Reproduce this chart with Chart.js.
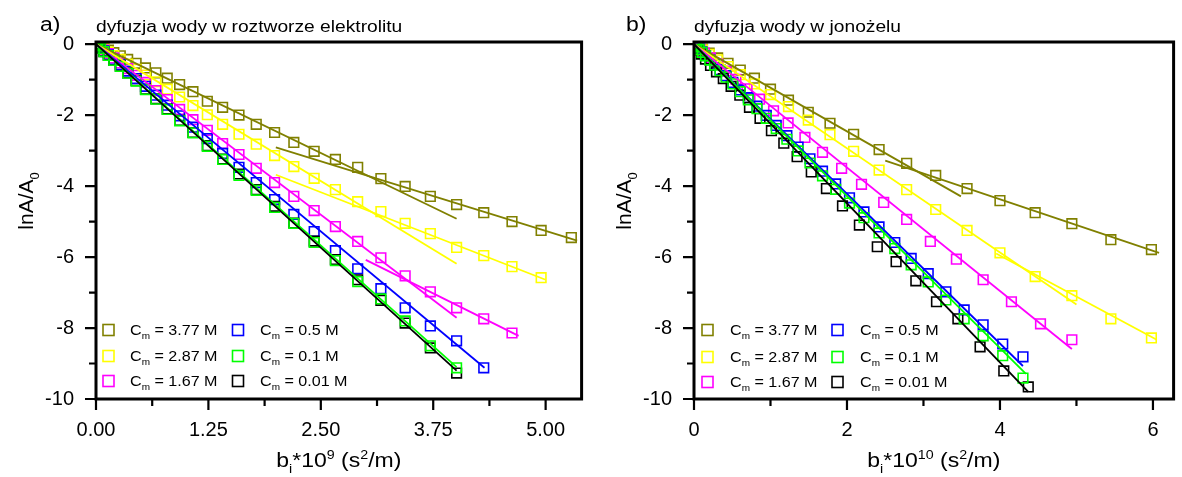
<!DOCTYPE html>
<html>
<head>
<meta charset="utf-8">
<script src="https://cdn.jsdelivr.net/npm/chart.js@4.4.1/dist/chart.umd.min.js"></script>
<style>
  body { margin: 0; background: #fff; width: 1182px; height: 477px; overflow: hidden; position: relative; }
  .panel { position: absolute; top: 0; height: 477px; }
  #left { left: 0; width: 590px; }
  #right { left: 590px; width: 592px; }
</style>
</head>
<body>
<div class="panel" id="left"><canvas id="chartA"></canvas></div>
<div class="panel" id="right"><canvas id="chartB"></canvas></div>
<script>
// concentrations shown in the legend
const seriesNames = ["3.77 M", "2.87 M", "1.67 M", "0.5 M", "0.1 M", "0.01 M"];
const seriesColors = ["#808000", "#ffff00", "#ff00ff", "#0000ff", "#00ff00", "#000000"];

// ---- panel a) : b*10^9 values and lnA/A0 per concentration
const leftB = [0, 0.0055, 0.022, 0.0495, 0.088, 0.1375, 0.198, 0.27, 0.352, 0.446, 0.55, 0.666, 0.792, 0.93, 1.078, 1.238, 1.408, 1.59, 1.782, 1.986, 2.2, 2.426, 2.662, 2.91, 3.168, 3.438, 3.718, 4.01, 4.312, 4.626, 4.95, 5.286];
const leftLn377 = [0, -0.01, -0.03, -0.06, -0.11, -0.17, -0.24, -0.33, -0.43, -0.54, -0.67, -0.81, -0.96, -1.14, -1.34, -1.61, -1.78, -2.00, -2.26, -2.49, -2.77, -3.02, -3.25, -3.47, -3.79, -4.01, -4.29, -4.52, -4.75, -5.00, -5.25, -5.45];
const leftLn287 = [0, -0.01, -0.035, -0.08, -0.14, -0.22, -0.32, -0.43, -0.56, -0.71, -0.87, -1.06, -1.27, -1.49, -1.73, -1.99, -2.26, -2.54, -2.82, -3.14, -3.45, -3.78, -4.10, -4.44, -4.72, -5.05, -5.34, -5.73, -5.96, -6.27, -6.58];
const leftLn167 = [0, -0.01, -0.04, -0.10, -0.17, -0.27, -0.39, -0.53, -0.69, -0.88, -1.08, -1.31, -1.56, -1.84, -2.13, -2.43, -2.80, -3.11, -3.50, -3.90, -4.29, -4.69, -5.14, -5.56, -6.02, -6.53, -6.98, -7.43, -7.74, -8.14];
const leftLn05 = [0, -0.01, -0.05, -0.11, -0.19, -0.30, -0.43, -0.58, -0.76, -0.97, -1.19, -1.44, -1.72, -2.02, -2.34, -2.66, -3.08, -3.47, -3.90, -4.38, -4.80, -5.28, -5.82, -6.33, -6.89, -7.43, -7.94, -8.36, -9.12];
const leftLn01 = [0, -0.01, -0.05, -0.12, -0.21, -0.32, -0.46, -0.63, -0.82, -1.04, -1.28, -1.55, -1.84, -2.16, -2.50, -2.88, -3.25, -3.70, -4.12, -4.60, -5.05, -5.59, -6.10, -6.69, -7.18, -7.80, -8.50, -9.12];
const leftLn001 = [0, -0.01, -0.05, -0.12, -0.21, -0.32, -0.46, -0.62, -0.81, -1.03, -1.27, -1.54, -1.83, -2.15, -2.49, -2.86, -3.24, -3.66, -4.10, -4.57, -5.04, -5.55, -6.07, -6.64, -7.22, -7.86, -8.56, -9.27];
// fitted lines: [x1, y1, x2, y2]
const leftFit377 = [[0, 0, 4.01, -4.92], [2.0, -2.91, 5.35, -5.54]];
const leftFit287 = [[0, 0, 4.01, -6.19], [2.0, -3.68, 5.0, -6.64]];
const leftFit167 = [[0, 0, 4.01, -7.71], [3.0, -6.08, 4.7, -8.22]];
const leftFit05 = [[0, 0, 4.32, -9.12]];
const leftFit01 = [[0, 0, 4.01, -9.1]];
const leftFit001 = [[0, 0, 4.01, -9.2]];

// ---- panel b) : b*10^10 values and lnA/A0 per concentration
const rightB1 = [0, 0.0124, 0.049, 0.111, 0.198, 0.309, 0.445, 0.605, 0.79, 1.0, 1.235, 1.494, 1.778, 2.087, 2.42, 2.78, 3.16, 3.57, 4.0, 4.46, 4.94, 5.45, 5.98];
const rightB2 = [0, 0.0086, 0.034, 0.077, 0.137, 0.214, 0.31, 0.42, 0.548, 0.694, 0.857, 1.04, 1.23, 1.45, 1.68, 1.93, 2.19, 2.48, 2.78, 3.09, 3.43, 3.78, 4.15, 4.53, 4.94];
const rightB3 = [0, 0.0042, 0.0168, 0.0378, 0.0672, 0.105, 0.151, 0.206, 0.269, 0.34, 0.42, 0.508, 0.605, 0.71, 0.823, 0.945, 1.075, 1.214, 1.361, 1.516, 1.68, 1.852, 2.033, 2.222, 2.419, 2.625, 2.839, 3.062, 3.293, 3.532, 3.78, 4.036, 4.301];
const rightB4 = [0, 0.006, 0.024, 0.054, 0.096, 0.15, 0.216, 0.294, 0.383, 0.485, 0.599, 0.725, 0.863, 1.012, 1.174, 1.348, 1.533, 1.731, 1.941, 2.162, 2.396, 2.642, 2.9, 3.17, 3.45, 3.74, 4.05, 4.37];
const rightLn377 = [0, -0.016, -0.06, -0.14, -0.25, -0.39, -0.54, -0.73, -0.96, -1.27, -1.58, -1.92, -2.23, -2.54, -2.97, -3.36, -3.70, -4.07, -4.41, -4.75, -5.06, -5.51, -5.79];
const rightLn287 = [0, -0.02, -0.07, -0.16, -0.29, -0.44, -0.63, -0.86, -1.12, -1.42, -1.76, -2.14, -2.55, -3.02, -3.55, -4.10, -4.66, -5.25, -5.88, -6.55, -7.09, -7.74, -8.28];
const rightLn167 = [0, -0.016, -0.06, -0.14, -0.25, -0.39, -0.56, -0.76, -0.99, -1.26, -1.55, -1.88, -2.22, -2.63, -3.05, -3.50, -3.95, -4.46, -4.94, -5.56, -6.06, -6.64, -7.26, -7.88, -8.33];
const rightLn05 = [0, -0.01, -0.04, -0.08, -0.14, -0.22, -0.32, -0.44, -0.57, -0.72, -0.89, -1.08, -1.29, -1.51, -1.75, -2.01, -2.29, -2.58, -2.90, -3.23, -3.58, -3.94, -4.33, -4.73, -5.15, -5.59, -6.04, -6.47, -6.98, -7.49, -7.91, -8.45, -8.81];
const rightLn01 = [0, -0.01, -0.04, -0.08, -0.15, -0.23, -0.33, -0.45, -0.59, -0.75, -0.93, -1.12, -1.34, -1.57, -1.82, -2.09, -2.38, -2.68, -3.01, -3.35, -3.71, -4.09, -4.48, -4.89, -5.32, -5.76, -6.22, -6.70, -7.21, -7.74, -8.22, -8.78, -9.41];
const rightLn001 = [0, -0.02, -0.07, -0.16, -0.28, -0.42, -0.60, -0.78, -0.97, -1.19, -1.44, -1.78, -2.09, -2.44, -2.79, -3.17, -3.60, -4.07, -4.56, -5.10, -5.71, -6.13, -6.67, -7.26, -7.74, -8.53, -9.21, -9.66];
const rightFit377 = [[0, 0, 3.49, -4.29], [2.5, -3.28, 6.08, -5.88]];
const rightFit287 = [[0, 0, 5.0, -7.34], [3.95, -5.9, 6.05, -8.33]];
const rightFit167 = [[0, 0, 4.94, -8.59]];
const rightFit05 = [[0, 0, 4.30, -9.07]];
const rightFit01 = [[0, 0, 4.34, -9.29]];
const rightFit001 = [[0, 0, 4.37, -9.8]];

// tick values
const yMajor = [-10, -8, -6, -4, -2, 0];
const yMinor = [-9, -7, -5, -3, -1];
const leftXMajor = [0, 1.25, 2.5, 3.75, 5];
const leftXMinor = [0.625, 1.875, 3.125, 4.375];
const rightXMajor = [0, 2, 4, 6];
const rightXMinor = [1, 3, 5];

Chart.defaults.font.family = '"Liberation Sans", Arial, sans-serif';
Chart.defaults.color = "#000";

const font = s => s + 'px "Liberation Sans", Arial, sans-serif';
const scatterOrder = [16, 15, 14, 13, 11, 12]; // green squares sit above black ones
const lineOrder = [5, 4, 3, 2, 1, 0];

// text with sub/superscripts, stretched a bit horizontally like the original
function drawRich(ctx, parts, x, y, size, opt) {
    opt = opt || {};
    const sx = opt.stretch || 1;
    const small = size * 0.62;
    ctx.save();
    ctx.translate(x, y);
    if (opt.rotate) ctx.rotate(-Math.PI / 2);
    ctx.scale(sx, 1);
    ctx.fillStyle = "#000";
    ctx.textAlign = "left";
    ctx.textBaseline = "alphabetic";
    let w = 0;
    parts.forEach(p => { ctx.font = font(p[1] ? small : size); w += ctx.measureText(p[0]).width; });
    let cx = opt.center ? -w / 2 : 0;
    parts.forEach(p => {
        ctx.font = font(p[1] ? small : size);
        let dy = 0;
        if (p[1] == "sup") dy = -size * 0.42;
        if (p[1] == "sub") dy = size * 0.3;
        ctx.fillText(p[0], cx, dy);
        cx += ctx.measureText(p[0]).width;
    });
    ctx.restore();
}

function buildDatasets(grids, lnSeries, fits) {
    let sets = [];
    lnSeries.forEach((ys, k) => {
        let xs = grids[k];
        sets.push({
            data: ys.map((y, i) => ({ x: xs[i], y: y })),
            pointStyle: "rect",
            pointRadius: 6.8,
            borderColor: seriesColors[k],
            backgroundColor: "rgba(0,0,0,0)",
            borderWidth: 1.6,
            showLine: false,
            order: scatterOrder[k]
        });
        fits[k].forEach(seg => {
            sets.push({
                data: [{ x: seg[0], y: seg[1] }, { x: seg[2], y: seg[3] }],
                showLine: true,
                pointRadius: 0,
                borderColor: seriesColors[k],
                borderWidth: 1.8,
                order: lineOrder[k]
            });
        });
    });
    return sets;
}

// frame, minor/major ticks, titles and legend
function decorPlugin(cfg) {
    return {
        id: "decor",
        afterDraw(chart) {
            const ctx = chart.ctx, a = chart.chartArea;
            const xs = chart.scales.x, ys = chart.scales.y;
            ctx.save();
            ctx.strokeStyle = "#000";
            ctx.lineWidth = 3;
            ctx.strokeRect(a.left, a.top, a.right - a.left, a.bottom - a.top);
            ctx.lineWidth = 2.2;
            ctx.beginPath();
            cfg.xMajor.forEach(v => { let p = xs.getPixelForValue(v); ctx.moveTo(p, a.bottom); ctx.lineTo(p, a.bottom + 11); });
            cfg.xMinor.forEach(v => { let p = xs.getPixelForValue(v); ctx.moveTo(p, a.bottom); ctx.lineTo(p, a.bottom + 7); });
            yMajor.forEach(v => { let p = ys.getPixelForValue(v); ctx.moveTo(a.left, p); ctx.lineTo(a.left - 11, p); });
            yMinor.forEach(v => { let p = ys.getPixelForValue(v); ctx.moveTo(a.left, p); ctx.lineTo(a.left - 7, p); });
            ctx.stroke();

            drawRich(ctx, [[cfg.label, 0]], cfg.labelX, 31, 20, { stretch: 1.15 });
            drawRich(ctx, [[cfg.subtitle, 0]], a.left, 32, 16, { stretch: 1.2 });
            drawRich(ctx, cfg.xTitle, (a.left + a.right) / 2, 467, 20, { stretch: 1.15, center: true });
            drawRich(ctx, [["lnA/A", 0], ["0", "sub"]], cfg.yTitleX, 201, 21, { rotate: true, center: true });

            // legend, two columns of three
            seriesNames.forEach((name, k) => {
                const col = k < 3 ? 0 : 1, row = k % 3;
                const cy = cfg.rowY[row];
                ctx.strokeStyle = seriesColors[k];
                ctx.lineWidth = 1.6;
                ctx.strokeRect(cfg.sqX[col] - 5.5, cy - 5.5, 11, 11);
                drawRich(ctx, [["C", 0], ["m", "sub"], [" = " + name, 0]], cfg.textX[col], cy + 5, 14, { stretch: 1.15 });
            });
            ctx.restore();
        }
    };
}

function makePanel(id, sets, xMax, xMajor, xLabel, yWidth, padRight, decor) {
    return new Chart(id, {
        type: "scatter",
        data: { datasets: sets },
        options: {
            animation: false,
            responsive: true,
            maintainAspectRatio: false,
            events: [],
            layout: { padding: { left: 0, right: padRight, top: 42, bottom: 0 } },
            plugins: { legend: { display: false }, tooltip: { enabled: false } },
            scales: {
                x: {
                    type: "linear", min: 0, max: xMax,
                    grid: { display: false, drawTicks: false },
                    border: { display: false },
                    afterBuildTicks: s => { s.ticks = xMajor.map(v => ({ value: v })); },
                    afterFit: s => { s.height = 78; },
                    ticks: { padding: 19, font: { size: 20 }, maxRotation: 0, autoSkip: false, callback: xLabel }
                },
                y: {
                    type: "linear", min: -10, max: 0.06,
                    grid: { display: false, drawTicks: false },
                    border: { display: false },
                    afterBuildTicks: s => { s.ticks = yMajor.map(v => ({ value: v })); },
                    afterFit: s => { s.width = yWidth; },
                    ticks: { padding: 22, font: { size: 20 }, autoSkip: false, callback: v => String(v) }
                }
            }
        },
        plugins: [decor]
    });
}

let leftSets = buildDatasets(
    [leftB, leftB, leftB, leftB, leftB, leftB],
    [leftLn377, leftLn287, leftLn167, leftLn05, leftLn01, leftLn001],
    [leftFit377, leftFit287, leftFit167, leftFit05, leftFit01, leftFit001]
);
let rightSets = buildDatasets(
    [rightB1, rightB1, rightB2, rightB3, rightB3, rightB4],
    [rightLn377, rightLn287, rightLn167, rightLn05, rightLn01, rightLn001],
    [rightFit377, rightFit287, rightFit167, rightFit05, rightFit01, rightFit001]
);

makePanel("chartA", leftSets, 5.40, leftXMajor, v => v.toFixed(2), 96, 5, decorPlugin({
    label: "a)", labelX: 40,
    subtitle: "dyfuzja wody w roztworze elektrolitu",
    xTitle: [["b", 0], ["i", "sub"], ["*10", 0], ["9", "sup"], [" (s", 0], ["2", "sup"], ["/m)", 0]],
    xMajor: leftXMajor, xMinor: leftXMinor, yTitleX: 33,
    sqX: [108.5, 238], textX: [130, 260], rowY: [330, 356, 381]
}));

makePanel("chartB", rightSets, 6.27, rightXMajor, v => String(v), 104, 7, decorPlugin({
    label: "b)", labelX: 36,
    subtitle: "dyfuzja wody w jonożelu",
    xTitle: [["b", 0], ["i", "sub"], ["*10", 0], ["10", "sup"], [" (s", 0], ["2", "sup"], ["/m)", 0]],
    xMajor: rightXMajor, xMinor: rightXMinor, yTitleX: 41,
    sqX: [117.5, 247.5], textX: [140, 270], rowY: [330, 357, 382]
}));
</script>
</body>
</html>
